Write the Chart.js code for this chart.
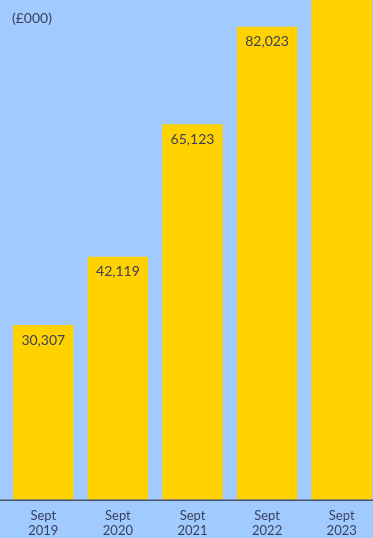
<!DOCTYPE html>
<html>
<head>
<meta charset="utf-8">
<script src="https://cdn.jsdelivr.net/npm/chart.js@4"></script>
<style>
  html, body { margin: 0; padding: 0; background: #a1cafe; overflow: hidden; }
  #wrap { position: relative; width: 379px; height: 548px; }
</style>
</head>
<body>
<div id="wrap"><canvas id="fundChart"></canvas></div>
<script>
// Data (£000)
const periods = [['Sept', '2019'], ['Sept', '2020'], ['Sept', '2021'], ['Sept', '2022'], ['Sept', '2023']];
const values = [30307, 42119, 65123, 82023, 96000];
const valueLabels = ['30,307', '42,119', '65,123', '82,023', ''];
const unitLabel = '(£000)';

const textColor = '#3b3f5c';
const fontFamily = 'Lato, "Open Sans", sans-serif';

// Draws the unit text and the full-width baseline, plus the value labels in the bars
const extras = {
    id: 'extras',
    afterDatasetsDraw(chart) {
        const ctx = chart.ctx;
        const y0 = chart.scales.y.getPixelForValue(0);
        ctx.save();
        ctx.strokeStyle = '#4b5163';
        ctx.lineWidth = 1.5;
        ctx.beginPath();
        ctx.moveTo(0, y0 + 0.5);
        ctx.lineTo(chart.width, y0 + 0.5);
        ctx.stroke();

        ctx.fillStyle = textColor;
        ctx.font = '14px ' + fontFamily;
        ctx.textBaseline = 'middle';
        ctx.textAlign = 'left';
        ctx.fillText(unitLabel, 12, 18);

        ctx.textAlign = 'center';
        chart.getDatasetMeta(0).data.forEach(function (bar, i) {
            if (!valueLabels[i]) return;
            ctx.fillText(valueLabels[i], bar.x, bar.y + 15);
        });
        ctx.restore();
    }
};

const ctx = document.getElementById('fundChart').getContext('2d');
new Chart(ctx, {
    type: 'bar',
    data: {
        labels: periods,
        datasets: [{
            data: values,
            backgroundColor: '#ffd200',
            barPercentage: 0.81,
            categoryPercentage: 1.0
        }]
    },
    options: {
        responsive: true,
        maintainAspectRatio: false,
        animation: false,
        layout: { padding: { left: 6, right: 0, top: 0, bottom: 1 } },
        plugins: {
            legend: { display: false },
            tooltip: { enabled: false }
        },
        scales: {
            x: {
                grid: { display: false, drawTicks: false },
                border: { display: false },
                ticks: {
                    color: textColor,
                    font: { family: fontFamily, size: 13 },
                    padding: 8,
                    maxRotation: 0
                }
            },
            y: {
                display: false,
                min: 0,
                max: 86650
            }
        }
    },
    plugins: [extras]
});
</script>
</body>
</html>
